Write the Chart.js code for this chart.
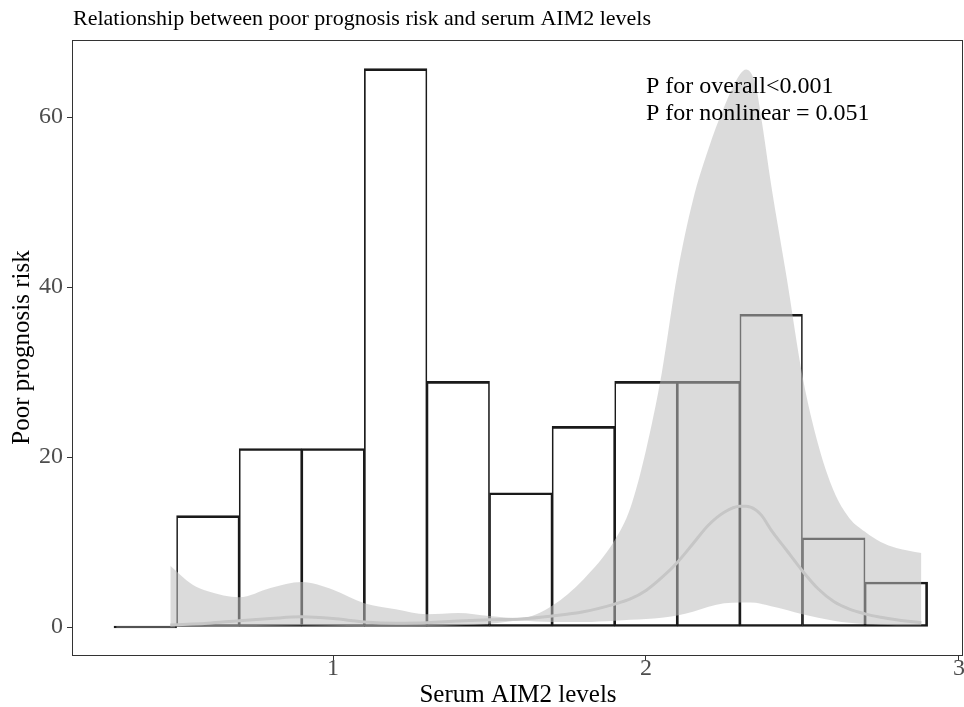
<!DOCTYPE html>
<html>
<head>
<meta charset="utf-8">
<title>Poor prognosis risk vs serum AIM2</title>
<script src="https://cdn.jsdelivr.net/npm/chart.js@4.4.1/dist/chart.umd.min.js"></script>
<style>
  html, body { margin: 0; padding: 0; background: #ffffff; }
  #wrap { width: 964px; height: 707px; }
</style>
</head>
<body>
<div id="wrap"><canvas id="chart" width="964" height="707"></canvas></div>
<script>
// Histogram of serum AIM2 levels (bin centres, bin width 0.2)
const binCenters = [0.4, 0.6, 0.8, 1.0, 1.2, 1.4, 1.6, 1.8, 2.0, 2.2, 2.4, 2.6, 2.8];
const binHeights = [0, 13.1, 21.0, 21.0, 65.7, 28.9, 15.8, 23.6, 28.9, 28.9, 36.8, 10.5, 5.3];

// Restricted cubic spline fit and its 95% confidence band
const curveX  = [0.48, 0.55, 0.6, 0.7, 0.8, 0.9, 1.0, 1.1, 1.2, 1.3, 1.4, 1.5, 1.6, 1.7, 1.8, 1.9, 1.95, 2.0, 2.05, 2.1, 2.15, 2.2, 2.25, 2.3, 2.32, 2.35, 2.37, 2.4, 2.45, 2.5, 2.55, 2.6, 2.65, 2.7, 2.75, 2.8, 2.88];
const ciUpper = [7.2, 5.0, 4.2, 3.5, 4.6, 5.3, 4.4, 2.8, 2.1, 1.5, 1.65, 1.3, 1.05, 2.5, 5.6, 10.2, 14.0, 20.8, 29.8, 41.5, 50.2, 56.3, 61.2, 65.0, 65.6, 63.8, 59.5, 52.0, 41.0, 29.5, 21.5, 16.0, 12.8, 11.2, 10.0, 9.3, 8.7];
const ciLower = [0.15, 0.12, 0.1, 0.1, 0.15, 0.2, 0.15, 0.1, 0.1, 0.12, 0.2, 0.4, 0.75, 0.6, 0.6, 0.75, 0.85, 0.95, 1.1, 1.35, 1.8, 2.4, 2.8, 2.9, 2.9, 2.85, 2.7, 2.45, 2.0, 1.5, 1.1, 0.75, 0.5, 0.35, 0.28, 0.22, 0.2];
const riskFit = [0.25, 0.35, 0.45, 0.75, 1.0, 1.2, 1.0, 0.6, 0.45, 0.5, 0.7, 0.85, 0.95, 1.3, 1.8, 2.7, 3.3, 4.3, 5.8, 7.6, 9.8, 12.0, 13.5, 14.2, 14.2, 13.8, 13.1, 11.4, 9.0, 6.6, 4.5, 3.0, 2.1, 1.55, 1.15, 0.85, 0.5];

// Axis ticks and texts
const xTicks = [1, 2, 3];
const yTicks = [0, 20, 40, 60];
const chartTitle = 'Relationship between poor prognosis risk and serum AIM2 levels';
const xTitle = 'Serum AIM2 levels';
const yTitle = 'Poor prognosis risk';
const pTexts = ['P for overall<0.001', 'P for nonlinear = 0.051'];

const serif = "'Liberation Serif', 'Times New Roman', Times, serif";
const toPoints = (xs, ys) => xs.map((x, i) => ({ x: x, y: ys[i] }));
const lastBin = binCenters.length - 1;

// Panel frame, title and P-value annotation
const decorations = {
  id: 'decorations',
  afterDraw(chart) {
    const { ctx, chartArea: a, scales } = chart;
    ctx.save();
    ctx.strokeStyle = '#333333';
    ctx.lineWidth = 1;
    ctx.strokeRect(Math.round(a.left) - 0.5, Math.round(a.top) + 0.5,
                   Math.round(a.right) - Math.round(a.left), Math.round(a.bottom) - Math.round(a.top));

    ctx.fillStyle = '#000000';
    ctx.textAlign = 'left';
    ctx.textBaseline = 'alphabetic';
    ctx.font = '22px ' + serif;
    ctx.fillText(chartTitle, a.left, 25);

    ctx.font = '24px ' + serif;
    const px = scales.x.getPixelForValue(2.0);
    ctx.fillText(pTexts[0], px, scales.y.getPixelForValue(62.8));
    ctx.fillText(pTexts[1], px, scales.y.getPixelForValue(59.6));
    ctx.restore();
  }
};

new Chart(document.getElementById('chart'), {
  type: 'line',
  data: {
    datasets: [
      {
        type: 'line',
        label: 'fit',
        data: toPoints(curveX, riskFit),
        borderColor: '#c6c6c6',
        borderWidth: 3,
        pointRadius: 0,
        cubicInterpolationMode: 'monotone',
        fill: false,
        order: 1
      },
      {
        type: 'line',
        label: 'upper',
        data: toPoints(curveX, ciUpper),
        borderColor: 'rgba(0,0,0,0)',
        borderWidth: 1,
        pointRadius: 0,
        cubicInterpolationMode: 'monotone',
        fill: 2,
        backgroundColor: 'rgba(190,190,190,0.55)',
        order: 2
      },
      {
        type: 'line',
        label: 'lower',
        data: toPoints(curveX, ciLower),
        borderColor: 'rgba(0,0,0,0)',
        borderWidth: 1,
        pointRadius: 0,
        cubicInterpolationMode: 'monotone',
        fill: false,
        order: 2
      },
      {
        type: 'bar',
        label: 'histogram',
        data: toPoints(binCenters, binHeights),
        backgroundColor: 'rgba(255,255,255,0)',
        borderColor: '#1a1a1a',
        borderWidth: (c) => ({
          top: 2, bottom: 2,
          left: c.dataIndex === 0 ? 2 : 1,
          right: c.dataIndex === lastBin ? 2 : 1
        }),
        borderSkipped: false,
        barPercentage: 1,
        categoryPercentage: 1,
        minBarLength: 2,
        grouped: false,
        order: 3
      }
    ]
  },
  options: {
    responsive: false,
    animation: false,
    devicePixelRatio: 1,
    layout: { padding: { top: 40, right: 1, bottom: 0, left: 0 } },
    plugins: {
      legend: { display: false },
      tooltip: { enabled: false },
      title: { display: false }
    },
    scales: {
      x: {
        type: 'linear',
        offset: false,
        min: 0.169,
        max: 3.013,
        afterBuildTicks: (s) => { s.ticks = xTicks.map(v => ({ value: v })); },
        afterFit: (s) => { s.height = 52; s.paddingLeft = 0; s.paddingRight = 0; },
        ticks: {
          autoSkip: false, maxRotation: 0, padding: -7,
          color: '#4d4d4d', font: { family: serif, size: 24 }
        },
        grid: { display: true, offset: false, drawOnChartArea: false, drawTicks: true, tickLength: 6, color: '#333333' },
        border: { display: false },
        title: {
          display: true, text: xTitle, color: '#000000',
          font: { family: serif, size: 25, lineHeight: 0.9 }, padding: { top: 0, bottom: 0 }
        }
      },
      y: {
        type: 'linear',
        min: -3.29,
        max: 69.06,
        afterBuildTicks: (s) => { s.ticks = yTicks.map(v => ({ value: v })); },
        afterFit: (s) => { s.width = 73; s.paddingTop = 0; s.paddingBottom = 0; },
        ticks: { padding: 4, color: '#4d4d4d', font: { family: serif, size: 24 } },
        grid: { display: true, drawOnChartArea: false, drawTicks: true, tickLength: 6, color: '#333333' },
        border: { display: false },
        title: {
          display: true, text: yTitle, color: '#000000',
          font: { family: serif, size: 25 }, padding: { top: 7, bottom: 0 }
        }
      }
    }
  },
  plugins: [decorations]
});
</script>
</body>
</html>
